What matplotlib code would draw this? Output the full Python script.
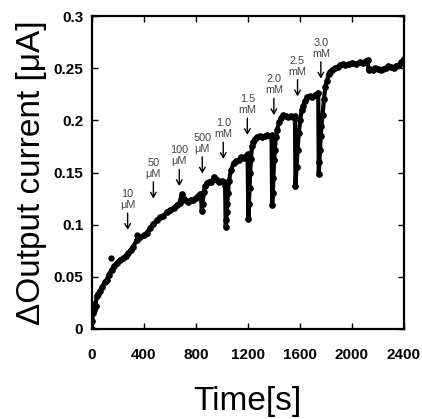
import matplotlib
matplotlib.use("Agg")
import matplotlib.pyplot as plt

plt.rcParams['font.family'] = ['Liberation Sans', 'DejaVu Sans']

# (time [s], delta output current [uA])
trace = [
    (0, 0.000), (4, 0.008), (7, 0.015), (10, 0.020), (14, 0.024), (20, 0.018), (30, 0.022),
    (38, 0.032), (50, 0.034), (64, 0.036), (80, 0.040), (100, 0.045), (115, 0.047), (130, 0.052),
    (154, 0.057), (170, 0.060), (192, 0.063), (215, 0.066), (243, 0.068),
    (262, 0.070), (282, 0.073), (300, 0.076), (320, 0.079), (345, 0.085), (371, 0.088),
    (400, 0.090), (422, 0.092), (450, 0.097), (474, 0.101), (500, 0.104), (525, 0.107),
    (550, 0.108), (575, 0.112), (602, 0.114), (630, 0.116), (653, 0.119), (675, 0.121),
    (691, 0.129), (705, 0.126), (717, 0.124), (740, 0.122), (760, 0.124), (781, 0.124),
    (800, 0.126), (820, 0.127), (832, 0.129), (840, 0.128),
    (846, 0.113), (852, 0.120), (862, 0.131), (870, 0.137), (885, 0.140), (900, 0.141),
    (920, 0.141), (940, 0.146), (960, 0.143), (980, 0.141), (1000, 0.142), (1015, 0.141),
    (1025, 0.138),
    (1030, 0.098), (1034, 0.104), (1038, 0.112), (1042, 0.120), (1047, 0.130), (1055, 0.142),
    (1070, 0.152), (1090, 0.159), (1110, 0.161), (1130, 0.162), (1150, 0.165), (1170, 0.164),
    (1185, 0.166), (1198, 0.168),
    (1204, 0.105), (1208, 0.120), (1213, 0.135), (1218, 0.150), (1224, 0.163), (1232, 0.175),
    (1242, 0.179), (1255, 0.182), (1270, 0.184), (1290, 0.185), (1310, 0.184), (1330, 0.185),
    (1350, 0.186), (1370, 0.185), (1382, 0.186),
    (1387, 0.119), (1392, 0.130), (1397, 0.145), (1402, 0.162), (1408, 0.172), (1415, 0.184),
    (1425, 0.191), (1440, 0.198), (1455, 0.202), (1472, 0.205), (1490, 0.204), (1510, 0.203),
    (1530, 0.204), (1550, 0.203), (1562, 0.204),
    (1566, 0.137), (1574, 0.155), (1582, 0.172), (1592, 0.188), (1602, 0.200), (1614, 0.210),
    (1626, 0.214), (1640, 0.219), (1655, 0.222), (1677, 0.223), (1695, 0.222), (1715, 0.224),
    (1730, 0.225), (1741, 0.226),
    (1745, 0.149), (1750, 0.160), (1755, 0.172), (1760, 0.185), (1766, 0.195), (1774, 0.205),
    (1785, 0.220), (1795, 0.232), (1808, 0.238), (1820, 0.244), (1832, 0.246), (1850, 0.248),
    (1870, 0.250), (1890, 0.251), (1910, 0.253), (1930, 0.254), (1950, 0.253), (1975, 0.254),
    (2000, 0.255), (2030, 0.254), (2060, 0.256), (2085, 0.255), (2105, 0.257), (2120, 0.258),
    (2128, 0.248), (2140, 0.249), (2160, 0.248), (2180, 0.250), (2200, 0.249), (2220, 0.248),
    (2240, 0.249), (2260, 0.250), (2280, 0.252), (2300, 0.251), (2320, 0.250), (2340, 0.252),
    (2360, 0.253), (2380, 0.256), (2399, 0.259),
]
time_s = [p[0] for p in trace]
current_uA = [p[1] for p in trace]

# isolated stray samples off the main trace
stray_time_s = [148, 348, 1400]
stray_current_uA = [0.068, 0.090, 0.162]

# Addition markers (concentration labels)
add_labels = ["10\nμM", "50\nμM", "100\nμM", "500\nμM", "1.0\nmM", "1.5\nmM", "2.0\nmM", "2.5\nmM", "3.0\nmM"]
add_times = [276, 474, 673, 850, 1011, 1196, 1400, 1582, 1761]
add_tips = [0.095, 0.125, 0.137, 0.149, 0.163, 0.186, 0.205, 0.223, 0.240]

x_ticks = [0, 400, 800, 1200, 1600, 2000, 2400]
y_ticks = [0, 0.05, 0.1, 0.15, 0.2, 0.25, 0.3]
y_ticklabels = ["0", "0.05", "0.1", "0.15", "0.2", "0.25", "0.3"]

fig = plt.figure(figsize=(4.22, 4.19), dpi=100)
ax = fig.add_axes([0.2173, 0.2148, 0.9573 - 0.2173, 0.9618 - 0.2148])

ax.plot(time_s, current_uA, color='black', lw=3.0, marker='o', ms=3.8, mfc='black', mec='black')
ax.plot(stray_time_s, stray_current_uA, ls='none', marker='o', ms=3.5, color='black')

arrow_len = 0.016
for lab, t, tip in zip(add_labels, add_times, add_tips):
    ax.annotate('', xy=(t, tip), xytext=(t, tip + arrow_len),
                arrowprops=dict(arrowstyle='->,head_length=0.35,head_width=0.2', color='black', lw=1.0,
                                shrinkA=0, shrinkB=0))
    ax.text(t, tip + arrow_len + 0.003, lab, ha='center', va='bottom', fontsize=7.8,
            color='#444444', linespacing=1.1)

ax.set_xlim(0, 2400)
ax.set_ylim(0, 0.3)
ax.set_xticks(x_ticks)
ax.set_xticklabels([str(v) for v in x_ticks])
ax.set_yticks(y_ticks)
ax.set_yticklabels(y_ticklabels)

ax.tick_params(direction='in', length=4, width=1, top=True, right=True, labelsize=11)
ax.tick_params(axis='x', pad=14)
ax.tick_params(axis='y', pad=6)
for lbl in ax.get_xticklabels() + ax.get_yticklabels():
    lbl.set_fontweight('bold')
for s in ax.spines.values():
    s.set_linewidth(1.6)

ax.set_xlabel("Time[s]", fontsize=24, labelpad=17)
ax.set_ylabel("ΔOutput current [μA]", fontsize=24, labelpad=5)

fig.savefig("out.png", dpi=100)
